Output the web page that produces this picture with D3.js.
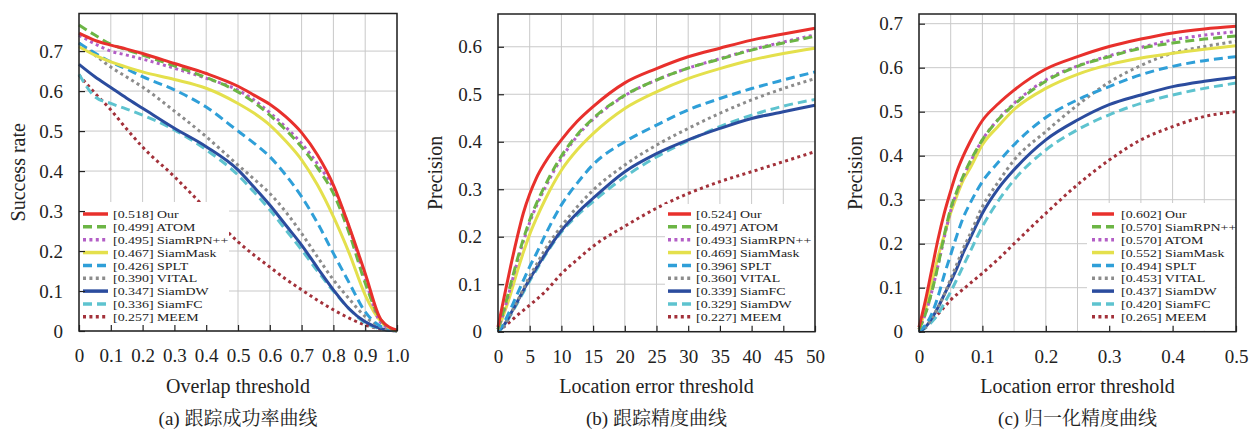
<!DOCTYPE html>
<html><head><meta charset="utf-8">
<script src="https://cdn.jsdelivr.net/npm/d3@7"></script>
<style>
html,body{margin:0;padding:0;background:#fff;}
svg{display:block;}
text{font-family:"Liberation Serif","Times New Roman",serif;fill:#222;}
.cap{font-family:"Liberation Serif","Noto Serif CJK SC","Noto Sans CJK SC",serif;}
</style>
</head><body>
<svg id="chart" width="1257" height="430"></svg>
<script>
// ---------- Data ----------
// (a) success plot
const successX = [0,0.05,0.1,0.15,0.2,0.3,0.4,0.5,0.55,0.6,0.65,0.7,0.75,0.8,0.85,0.9,0.95,1.0];
const successOur      = [0.745,0.727,0.715,0.705,0.694,0.669,0.644,0.612,0.590,0.567,0.536,0.496,0.440,0.365,0.260,0.144,0.028,0.002];
const successATOM     = [0.765,0.740,0.717,0.703,0.690,0.663,0.634,0.598,0.572,0.540,0.503,0.460,0.408,0.344,0.244,0.120,0.027,0.0];
const successSiamRPN  = [0.740,0.718,0.700,0.690,0.680,0.657,0.632,0.602,0.578,0.546,0.510,0.469,0.418,0.357,0.258,0.130,0.020,0.0];
const successSiamMask = [0.711,0.690,0.673,0.660,0.648,0.629,0.607,0.569,0.545,0.515,0.475,0.428,0.365,0.286,0.194,0.090,0.023,0.0];
const successSPLT     = [0.720,0.695,0.673,0.655,0.636,0.603,0.560,0.500,0.470,0.436,0.390,0.336,0.270,0.194,0.120,0.048,0.011,0.0];
const successVITAL    = [0.720,0.690,0.660,0.635,0.610,0.550,0.486,0.415,0.380,0.344,0.298,0.244,0.185,0.128,0.080,0.036,0.010,0.0];
const successSiamDW   = [0.667,0.636,0.609,0.582,0.557,0.507,0.461,0.403,0.360,0.315,0.265,0.215,0.158,0.103,0.055,0.023,0.006,0.0];
const successSiamFC   = [0.642,0.586,0.569,0.555,0.540,0.503,0.453,0.390,0.348,0.303,0.253,0.203,0.150,0.100,0.055,0.020,0.005,0.0];
const successMEEM     = [0.640,0.595,0.553,0.505,0.460,0.386,0.305,0.223,0.190,0.160,0.130,0.103,0.077,0.053,0.032,0.015,0.005,0.0];
const successNames  = ["Our","ATOM","SiamRPN++","SiamMask","SPLT","VITAL","SiamDW","SiamFC","MEEM"];
const successScores = ["0.518","0.499","0.495","0.467","0.426","0.390","0.347","0.336","0.257"];

// (b) precision plot
const precX = [0,1,2,3,4,5,6,7.5,10,12.5,15,20,25,30,35,40,45,50];
const precOur      = [0.010,0.075,0.138,0.197,0.250,0.290,0.322,0.358,0.404,0.443,0.474,0.524,0.554,0.579,0.597,0.614,0.627,0.639];
const precATOM     = [0.005,0.050,0.100,0.150,0.195,0.235,0.268,0.310,0.370,0.415,0.449,0.498,0.530,0.555,0.574,0.593,0.608,0.622];
const precSiamRPN  = [0.005,0.045,0.095,0.145,0.190,0.230,0.263,0.305,0.365,0.412,0.447,0.497,0.530,0.555,0.575,0.594,0.610,0.625];
const precSiamMask = [0.005,0.040,0.080,0.125,0.167,0.205,0.237,0.280,0.340,0.383,0.417,0.470,0.505,0.533,0.554,0.572,0.586,0.597];
const precSPLT     = [0.000,0.020,0.048,0.078,0.108,0.137,0.163,0.205,0.267,0.313,0.352,0.400,0.435,0.467,0.491,0.512,0.530,0.547];
const precVITAL    = [0.000,0.015,0.038,0.063,0.090,0.117,0.140,0.175,0.222,0.263,0.298,0.351,0.393,0.428,0.460,0.488,0.512,0.533];
const precSiamFC   = [0.000,0.015,0.038,0.062,0.087,0.111,0.133,0.165,0.213,0.250,0.281,0.337,0.375,0.404,0.428,0.449,0.463,0.477];
const precSiamDW   = [0.000,0.013,0.035,0.059,0.083,0.107,0.129,0.162,0.210,0.245,0.274,0.326,0.368,0.402,0.432,0.456,0.475,0.489];
const precMEEM     = [0.000,0.011,0.022,0.034,0.045,0.056,0.067,0.085,0.122,0.152,0.180,0.222,0.260,0.291,0.316,0.337,0.358,0.379];
const precNames  = ["Our","ATOM","SiamRPN++","SiamMask","SPLT","VITAL","SiamFC","SiamDW","MEEM"];
const precScores = ["0.524","0.497","0.493","0.469","0.396","0.360","0.339","0.329","0.227"];

// (c) normalized precision plot
const normX = [0,0.01,0.02,0.03,0.04,0.05,0.06,0.07,0.08,0.1,0.125,0.15,0.2,0.25,0.3,0.35,0.4,0.45,0.5];
const normOur      = [0.010,0.070,0.140,0.210,0.270,0.320,0.365,0.400,0.430,0.480,0.518,0.549,0.597,0.625,0.648,0.665,0.679,0.688,0.694];
const normSiamRPN  = [0.005,0.040,0.090,0.150,0.220,0.280,0.320,0.355,0.385,0.436,0.482,0.516,0.569,0.603,0.625,0.644,0.656,0.665,0.672];
const normATOM     = [0.005,0.040,0.090,0.150,0.215,0.275,0.318,0.353,0.383,0.436,0.483,0.519,0.572,0.604,0.627,0.646,0.663,0.674,0.682];
const normSiamMask = [0.005,0.050,0.110,0.170,0.220,0.270,0.310,0.345,0.370,0.425,0.467,0.505,0.553,0.585,0.607,0.622,0.633,0.642,0.650];
const normSPLT     = [0.000,0.015,0.040,0.080,0.130,0.175,0.220,0.260,0.290,0.341,0.385,0.425,0.487,0.527,0.557,0.584,0.603,0.616,0.625];
const normVITAL    = [0.000,0.010,0.030,0.055,0.085,0.120,0.155,0.190,0.220,0.284,0.340,0.390,0.455,0.515,0.567,0.605,0.633,0.648,0.660];
const normSiamDW   = [0.000,0.010,0.030,0.055,0.085,0.114,0.145,0.180,0.210,0.269,0.325,0.368,0.436,0.481,0.516,0.538,0.557,0.569,0.578];
const normSiamFC   = [0.000,0.008,0.022,0.040,0.065,0.091,0.120,0.150,0.180,0.239,0.297,0.345,0.413,0.459,0.493,0.519,0.538,0.553,0.565];
const normMEEM     = [0.000,0.012,0.025,0.040,0.056,0.072,0.085,0.097,0.109,0.133,0.165,0.200,0.269,0.334,0.390,0.436,0.466,0.489,0.500];
const normNames  = ["Our","SiamRPN++","ATOM","SiamMask","SPLT","VITAL","SiamDW","SiamFC","MEEM"];
const normScores = ["0.602","0.570","0.570","0.552","0.494","0.453","0.437","0.420","0.265"];

// ---------- Styles (order of legend rows) ----------
const styles = [
  {color:"#e8302c", dash:null},
  {color:"#6cb545", dash:"9,5"},
  {color:"#b35ec6", dash:"3,3.4"},
  {color:"#e4e04c", dash:null},
  {color:"#2f9fd8", dash:"9,5"},
  {color:"#8c8c8c", dash:"3,3.4"},
  {color:"#2b4c9e", dash:null},
  {color:"#5ec3cf", dash:"9,5"},
  {color:"#a3313a", dash:"3,3.4"}
];

const svg = d3.select("#chart");

function drawPanel(cfg){
  const g = svg.append("g");
  const x = d3.scaleLinear().domain(cfg.xDomain).range([cfg.left, cfg.right]);
  const y = d3.scaleLinear().domain(cfg.yDomain).range([cfg.bottom, cfg.top]);

  // grid
  g.append("g").selectAll("line").data(cfg.xGrid).join("line")
    .attr("x1", d=>x(d)).attr("x2", d=>x(d)).attr("y1", cfg.top).attr("y2", cfg.bottom)
    .attr("stroke","#c9c9c9").attr("stroke-width",1);
  g.append("g").selectAll("line").data(cfg.yTicks).join("line")
    .attr("x1", cfg.left).attr("x2", cfg.right).attr("y1", d=>y(d)).attr("y2", d=>y(d))
    .attr("stroke","#c9c9c9").attr("stroke-width",1);

  // series
  const line = d3.line().x((d,i)=>x(cfg.xs[i])).y(d=>y(d)).curve(d3.curveMonotoneX);
  const order = d3.range(cfg.series.length).reverse();
  order.forEach(i=>{
    const s = styles[i];
    g.append("path").datum(cfg.series[i]).attr("d", line)
      .attr("fill","none").attr("stroke", s.color).attr("stroke-width",3)
      .attr("stroke-dasharray", s.dash).attr("stroke-linejoin","round");
  });

  // legend
  const lg = g.append("g");
  lg.append("rect").attr("x", cfg.legBox[0]).attr("y", cfg.legBox[1])
    .attr("width", cfg.legBox[2]).attr("height", cfg.legBox[3]).attr("fill","#fff");
  cfg.names.forEach((n,i)=>{
    const cy = cfg.legY + i*12.85;
    const s = styles[i];
    lg.append("line").attr("x1", cfg.legX).attr("x2", cfg.legX+cfg.legLen)
      .attr("y1", cy).attr("y2", cy).attr("stroke", s.color).attr("stroke-width",3.5)
      .attr("stroke-dasharray", s.dash);
    lg.append("text").attr("transform", `translate(${cfg.legTextX},${cy+4.2}) scale(1.22,1)`)
      .attr("font-size",11.4).text("[" + cfg.scores[i] + "] " + n);
  });

  // axes
  const xAxis = d3.axisBottom(x).tickValues(cfg.xTicks).tickFormat(cfg.xFmt)
    .tickSize(-6).tickPadding(17.5);
  const yAxis = d3.axisLeft(y).tickValues(cfg.yTicks).tickFormat(cfg.yFmt)
    .tickSize(-6).tickPadding(16);
  const gx = g.append("g").attr("transform", `translate(0,${cfg.bottom})`).call(xAxis);
  const gy = g.append("g").attr("transform", `translate(${cfg.left},0)`).call(yAxis);
  [gx,gy].forEach(a=>{
    a.select(".domain").remove();
    a.selectAll(".tick line").attr("stroke","#222").attr("stroke-width",1.2);
    a.selectAll(".tick text").attr("font-size",19).attr("font-family","Liberation Serif").attr("fill","#222");
  });

  // frame
  g.append("rect").attr("x", cfg.left).attr("y", cfg.top)
    .attr("width", cfg.right-cfg.left).attr("height", cfg.bottom-cfg.top)
    .attr("fill","none").attr("stroke","#222").attr("stroke-width",1.5);

  // labels
  const cx = (cfg.left+cfg.right)/2;
  g.append("text").attr("x", cx).attr("y", 393).attr("text-anchor","middle")
    .attr("font-size",20).text(cfg.xLabel);
  g.append("text").attr("transform", `translate(${cfg.yLabelX},${(cfg.top+cfg.bottom)/2}) rotate(-90)`)
    .attr("text-anchor","middle").attr("font-size",20).text(cfg.yLabel);
  g.append("text").attr("class","cap").attr("x", cx).attr("y", 425).attr("text-anchor","middle")
    .attr("font-size",19).text(cfg.caption);
}

const fmt1 = d => d===0 ? "0" : d3.format(".1f")(d);

drawPanel({
  left:79, right:397, top:13.5, bottom:331,
  xDomain:[0,1], yDomain:[0,0.794],
  xs: successX,
  series:[successOur,successATOM,successSiamRPN,successSiamMask,successSPLT,successVITAL,successSiamDW,successSiamFC,successMEEM],
  names: successNames, scores: successScores,
  xTicks: d3.range(0,1.0001,0.1).map(v=>+v.toFixed(2)), xGrid: d3.range(0,1.0001,0.1).map(v=>+v.toFixed(2)),
  yTicks: [0,0.1,0.2,0.3,0.4,0.5,0.6,0.7],
  xFmt: fmt1, yFmt: fmt1,
  legBox:[80,202,149,128], legX:83, legLen:25, legTextX:113, legY:214,
  xLabel:"Overlap threshold", yLabel:"Success rate", yLabelX:25,
  caption:"(a) 跟踪成功率曲线"
});

drawPanel({
  left:498, right:815, top:14, bottom:331.7,
  xDomain:[0,50], yDomain:[0,0.669],
  xs: precX,
  series:[precOur,precATOM,precSiamRPN,precSiamMask,precSPLT,precVITAL,precSiamFC,precSiamDW,precMEEM],
  names: precNames, scores: precScores,
  xTicks: d3.range(0,51,5), xGrid: d3.range(0,51,5),
  yTicks: [0,0.1,0.2,0.3,0.4,0.5,0.6],
  xFmt: d=>String(d), yFmt: fmt1,
  legBox:[665,204,149,126.7], legX:668, legLen:23, legTextX:696, legY:214,
  xLabel:"Location error threshold", yLabel:"Precision", yLabelX:442,
  caption:"(b) 跟踪精度曲线"
});

drawPanel({
  left:919, right:1236, top:14, bottom:331.7,
  xDomain:[0,0.5], yDomain:[0,0.722],
  xs: normX,
  series:[normOur,normSiamRPN,normATOM,normSiamMask,normSPLT,normVITAL,normSiamDW,normSiamFC,normMEEM],
  names: normNames, scores: normScores,
  xTicks: [0,0.1,0.2,0.3,0.4,0.5], xGrid: d3.range(0,0.5001,0.05).map(v=>+v.toFixed(2)),
  yTicks: [0,0.1,0.2,0.3,0.4,0.5,0.6,0.7],
  xFmt: fmt1, yFmt: fmt1,
  legBox:[1087,203,148,127.7], legX:1092, legLen:22, legTextX:1121, legY:214,
  xLabel:"Location error threshold", yLabel:"Precision", yLabelX:862,
  caption:"(c) 归一化精度曲线"
});
</script>
</body></html>
